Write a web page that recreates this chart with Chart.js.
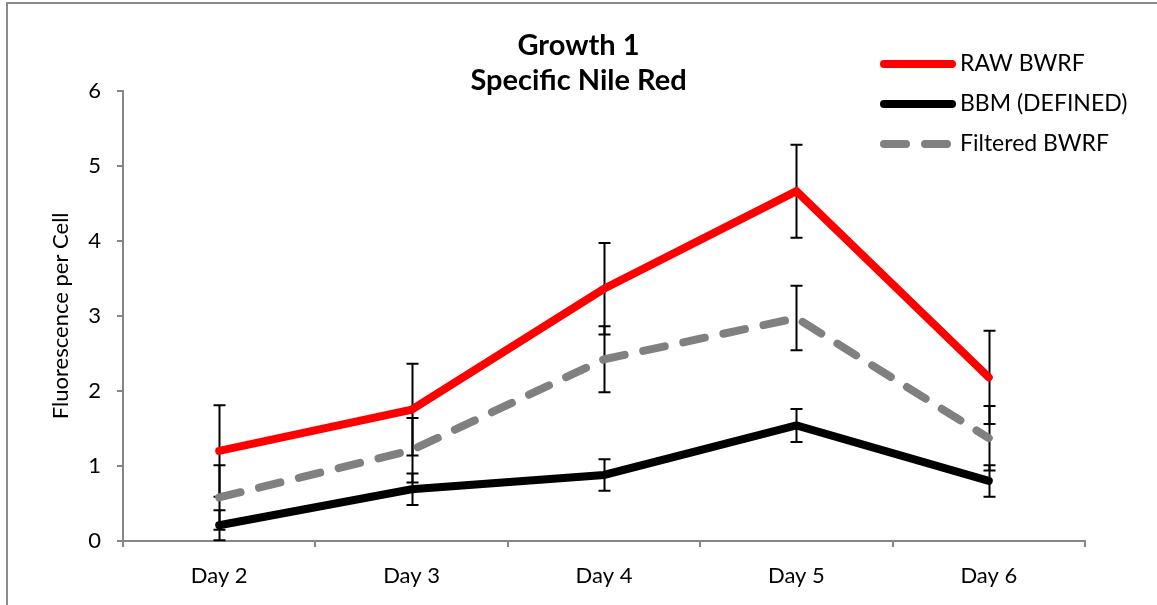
<!DOCTYPE html>
<html lang="en">
<head>
  <meta charset="UTF-8" />
  <title>Growth 1 - Specific Nile Red</title>
  <script src="https://cdn.jsdelivr.net/npm/chart.js"></script>
  <style>
    body {
      margin: 0;
      background: #fff;
      overflow: hidden;
    }

    #wrap {
      position: relative;
      width: 1157px;
      height: 605px;
    }

    #frame {
      position: absolute;
      left: 6px;
      top: 2px;
      width: 1200px;
      height: 700px;
      border: 2px solid #8b8b8b;
      pointer-events: none;
    }
  </style>
</head>
<body>
  <div id="wrap">
    <canvas id="growthChart" width="1157" height="605"></canvas>
    <div id="frame"></div>
  </div>

  <script>
    const days = ["Day 2", "Day 3", "Day 4", "Day 5", "Day 6"];

    const rawBwrf = [1.20, 1.75, 3.36, 4.66, 2.18];
    const rawBwrfErr = [0.61, 0.61, 0.61, 0.62, 0.62];

    const bbmDefined = [0.21, 0.69, 0.88, 1.54, 0.80];
    const bbmDefinedErr = [0.20, 0.21, 0.21, 0.22, 0.21];

    const filteredBwrf = [0.58, 1.21, 2.42, 2.97, 1.37];
    const filteredBwrfErr = [0.43, 0.43, 0.44, 0.43, 0.43];

    const FONT = "Lato";
    const AXIS_GREY = "#868686";

    // error bars go under the lines, like in the original
    const errorBars = {
      id: "errorBars",
      beforeDatasetsDraw(chart) {
        const { ctx, scales: { x, y } } = chart;
        ctx.save();
        ctx.strokeStyle = "#000";
        ctx.lineWidth = 2;
        chart.data.datasets.forEach((ds, i) => {
          if (!chart.isDatasetVisible(i) || !ds.errors) return;
          ds.errors.forEach((e, j) => {
            const px = Math.round(x.getPixelForValue(j)) + 0.5;
            const top = y.getPixelForValue(ds.data[j] + e);
            const bot = y.getPixelForValue(ds.data[j] - e);
            ctx.beginPath();
            ctx.moveTo(px, top);
            ctx.lineTo(px, bot);
            ctx.moveTo(px - 6, top);
            ctx.lineTo(px + 6, top);
            ctx.moveTo(px - 6, bot);
            ctx.lineTo(px + 6, bot);
            ctx.stroke();
          });
        });
        ctx.restore();
      }
    };

    // legend sits inside the plot, top right
    const lineLegend = {
      id: "lineLegend",
      afterDraw(chart) {
        const ctx = chart.ctx;
        ctx.save();
        ctx.font = "23px " + FONT;
        ctx.textBaseline = "middle";
        ctx.textAlign = "left";
        chart.data.datasets.forEach((ds, i) => {
          const yy = 64 + i * 40;
          ctx.beginPath();
          ctx.strokeStyle = ds.borderColor;
          ctx.lineWidth = ds.borderWidth;
          ctx.lineCap = "round";
          ctx.setLineDash(ds.borderDash || []);
          ctx.moveTo(884, yy);
          ctx.lineTo(952, yy);
          ctx.stroke();
          ctx.setLineDash([]);
          ctx.fillStyle = "#000";
          ctx.fillText(ds.label, 960, yy);
        });
        ctx.restore();
      }
    };

    const ctx = document.getElementById("growthChart").getContext("2d");
    new Chart(ctx, {
      type: "line",
      data: {
        labels: days,
        datasets: [
          {
            label: "RAW BWRF",
            data: rawBwrf,
            errors: rawBwrfErr,
            borderColor: "#ff0000",
            backgroundColor: "#ff0000",
            borderWidth: 8,
            borderCapStyle: "round",
            pointRadius: 0,
            tension: 0
          },
          {
            label: "BBM (DEFINED)",
            data: bbmDefined,
            errors: bbmDefinedErr,
            borderColor: "#000000",
            backgroundColor: "#000000",
            borderWidth: 8,
            borderCapStyle: "round",
            pointRadius: 0,
            tension: 0
          },
          {
            label: "Filtered BWRF",
            data: filteredBwrf,
            errors: filteredBwrfErr,
            borderColor: "#808080",
            backgroundColor: "#808080",
            borderWidth: 8,
            borderDash: [22, 19],
            borderCapStyle: "round",
            pointRadius: 0,
            tension: 0
          }
        ]
      },
      options: {
        responsive: false,
        animation: false,
        devicePixelRatio: 1,
        layout: {
          padding: 0
        },
        plugins: {
          legend: { display: false },
          tooltip: { enabled: false },
          title: {
            display: true,
            text: ["Growth 1", "Specific Nile Red"],
            color: "#000",
            font: { family: FONT, size: 29, weight: "bold", lineHeight: 1.2 },
            padding: { top: 28, bottom: -7 }
          }
        },
        scales: {
          x: {
            offset: true,
            ticks: {
              color: "#000",
              font: { family: FONT, size: 22 },
              padding: 16
            },
            grid: {
              offset: true,
              drawOnChartArea: false,
              tickLength: 6,
              color: AXIS_GREY,
              lineWidth: 2
            },
            border: { color: AXIS_GREY, width: 2 },
            afterFit(scale) { scale.height = 64; }
          },
          y: {
            min: 0,
            max: 6,
            ticks: {
              stepSize: 1,
              color: "#000",
              font: { family: FONT, size: 22 },
              padding: 16
            },
            grid: {
              drawOnChartArea: false,
              tickLength: 6,
              color: AXIS_GREY,
              lineWidth: 2
            },
            border: { color: AXIS_GREY, width: 2 },
            title: {
              display: true,
              text: "Fluorescence per Cell",
              color: "#000",
              font: { family: FONT, size: 22 },
              padding: { top: 48, bottom: 0 }
            },
            afterFit(scale) { scale.width = 123; }
          },
          // empty right-hand axis, only reserves the space right of the plot
          yRight: {
            type: "linear",
            position: "right",
            display: true,
            grid: { display: false },
            ticks: { display: false },
            border: { display: false },
            afterFit(scale) { scale.width = 72; }
          }
        }
      },
      plugins: [errorBars, lineLegend]
    });
  </script>
</body>
</html>
